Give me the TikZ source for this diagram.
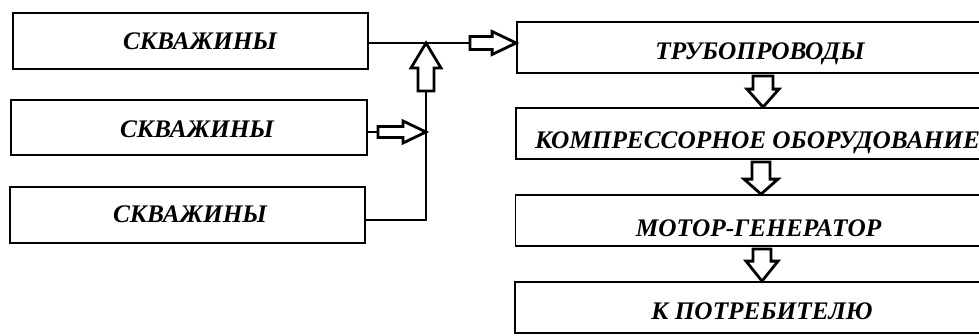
\documentclass[tikz,border=0pt]{standalone}
\usepackage{fontspec}
\setmainfont{Liberation Serif}
\usetikzlibrary{calc}
\tikzset{
  box/.style={draw, line width=1.8pt, fill=white, inner sep=0pt},
  lbl/.style={font=\fontsize{25.3}{30}\selectfont\bfseries\itshape, anchor=base, inner sep=0pt},
  thinline/.style={line width=1.2pt},
  barrowstyle/.style={draw, line width=2.8pt, fill=white, line join=miter}
}
% block arrow: from, to, half shaft, half head, head length
\newcommand\barrow[5]{%
  \path ($(#2)!#5!(#1)$) coordinate (bh);
  \draw[barrowstyle] ($(#1)!#3!90:(#2)$) -- ($(bh)!#3!90:(#2)$) -- ($(bh)!#4!90:(#2)$) -- (#2)
    -- ($(bh)!#4!-90:(#2)$) -- ($(bh)!#3!-90:(#2)$) -- ($(#1)!#3!-90:(#2)$) -- cycle;}
\begin{document}
\begin{tikzpicture}[x=1pt,y=-1pt]
\useasboundingbox (0,0) rectangle (979,335);
% left boxes
\node[box, minimum width=355pt, minimum height=56pt] (L1) at (190.5,41) {};
\node[box, minimum width=356pt, minimum height=55pt] (L2) at (189,127.5) {};
\node[box, minimum width=355pt, minimum height=56pt] (L3) at (187.5,215) {};
% right boxes
\node[box, minimum width=487pt, minimum height=51pt] (R1) at (760.5,47.5) {};
\node[box, minimum width=487pt, minimum height=51pt] (R2) at (759.5,133.5) {};
\node[box, minimum width=487pt, minimum height=51pt] (R3) at (759,220.5) {};
\node[box, minimum width=487pt, minimum height=51pt] (R4) at (758.5,307.5) {};
% texts
\node[lbl] (t1) at (200,49.5) {СКВАЖИНЫ};
\node[lbl] (t2) at (197,137) {СКВАЖИНЫ};
\node[lbl] (t3) at (190,222) {СКВАЖИНЫ};
\node[lbl] (t4) at (760,59) {ТРУБОПРОВОДЫ};
\node[lbl] (t5) at (757.5,148) {КОМПРЕССОРНОЕ ОБОРУДОВАНИЕ};
\node[lbl] (t6) at (758.5,236) {МОТОР-ГЕНЕРАТОР};
\node[lbl] (t7) at (762,319) {К ПОТРЕБИТЕЛЮ};
% junction coordinates
\coordinate (ha) at (470,43);
\coordinate (hb) at (R1.west |- ha);
\coordinate (ua) at (426,91);
\coordinate (ub) at (426,43);
\coordinate (ma) at (378,132);
\coordinate (mb) at (426,132);
\coordinate (c3) at (426,220);
% thin lines
\draw[thinline] (L1.east |- ha) -- (ha);
\draw[thinline] (L2.east |- ma) -- (ma);
\draw[thinline] (L3.east |- c3) -- (c3) -- (ua);
% block arrows
\barrow{ha}{hb}{6.5pt}{11.5pt}{24pt}
\barrow{ua}{ub}{8pt}{15pt}{25pt}
\barrow{ma}{mb}{5.5pt}{11pt}{23pt}
\coordinate (d1a) at (763,76);
\coordinate (d1b) at (R2.north -| d1a);
\coordinate (d2a) at (761,162);
\coordinate (d2b) at (R3.north -| d2a);
\coordinate (d3a) at (762,249);
\coordinate (d3b) at (R4.north -| d3a);
\barrow{d1a}{d1b}{10pt}{16pt}{18pt}
\barrow{d2a}{d2b}{9pt}{17pt}{15pt}
\barrow{d3a}{d3b}{9pt}{16pt}{20pt}
\end{tikzpicture}
\end{document}
